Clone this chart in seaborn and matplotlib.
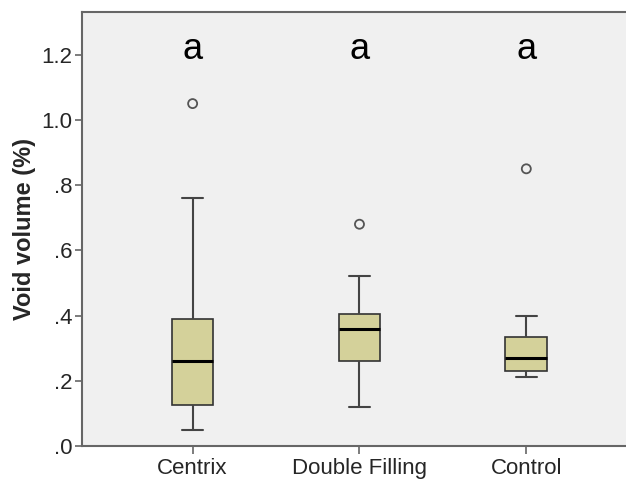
import matplotlib
matplotlib.use("Agg")
import matplotlib.pyplot as plt
import pandas as pd
import seaborn as sns

# five-number summaries (whisker low, Q1, median, Q3, whisker high)
groups = ["Centrix", "Double Filling", "Control"]
whisker_low = [0.05, 0.12, 0.21]
q1 = [0.125, 0.26, 0.231]
median = [0.26, 0.36, 0.27]
q3 = [0.39, 0.406, 0.334]
whisker_high = [0.76, 0.52, 0.40]
outliers = [1.05, 0.68, 0.85]
letters = ["a", "a", "a"]
letter_y = 1.215

rows = []
for i, g in enumerate(groups):
    for v in (whisker_low[i], q1[i], median[i], q3[i], whisker_high[i]):
        rows.append({"group": g, "value": v})
df = pd.DataFrame(rows)
out_df = pd.DataFrame({"group": groups, "value": outliers})

sns.set_theme(style="white")
plt.rcParams["font.family"] = ["Liberation Sans", "DejaVu Sans"]

fig = plt.figure(figsize=(6.26, 4.79), dpi=100)
ax = fig.add_axes([0.131, 0.069, 0.875, 0.906])
ax.set_facecolor("#f0f0f0")

sns.boxplot(data=df, x="group", y="value", order=groups, whis=(0, 100), width=0.25,
            color="#d4d19a", saturation=1, linecolor="#333333", linewidth=1.2, fliersize=0,
            medianprops={"color": "black", "linewidth": 2.2},
            whiskerprops={"color": "#444444", "linewidth": 1.5},
            capprops={"color": "#444444", "linewidth": 1.5},
            ax=ax)

n_before = len(ax.collections)
sns.stripplot(data=out_df, x="group", y="value", order=groups, jitter=False,
              size=6.5, color="#555555", ax=ax)
for pts in ax.collections[n_before:]:
    pts.set_facecolor("none")
    pts.set_edgecolor("#555555")
    pts.set_linewidth(1.3)

for i, t in enumerate(letters):
    ax.text(i, letter_y, t, ha="center", va="center", fontsize=26, color="black")

ax.set_xlim(-0.663, 2.62)
ax.set_ylim(0, 1.331)
ax.set_yticks([0, 0.2, 0.4, 0.6, 0.8, 1.0, 1.2])
ax.set_yticklabels([".0", ".2", ".4", ".6", ".8", "1.0", "1.2"])
ax.set_xlabel("")
ax.set_ylabel("Void volume (%)", fontsize=17, fontweight="bold", labelpad=4)
ax.tick_params(axis="both", labelsize=16, length=5, width=1.2, color="#666666",
               direction="out", left=True, bottom=True, pad=2)
ax.tick_params(axis="x", length=6, pad=3)

for side in ["left", "bottom", "top"]:
    ax.spines[side].set_color("#666666")
    ax.spines[side].set_linewidth(1.5)
ax.spines["right"].set_visible(False)

fig.savefig("out.png", dpi=100, facecolor="white")
